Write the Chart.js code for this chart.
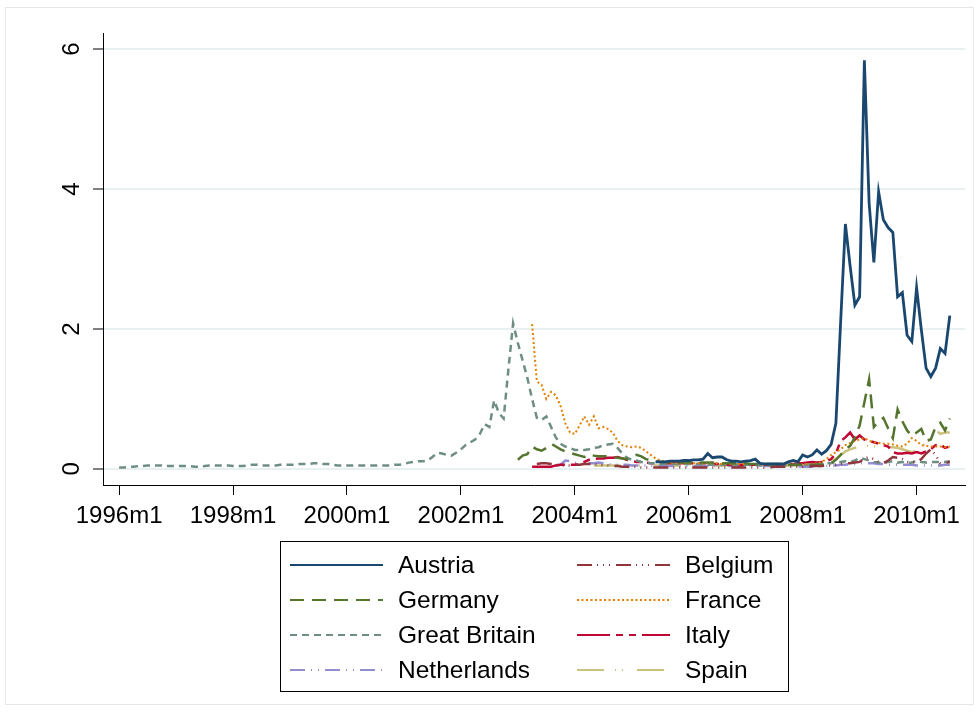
<!DOCTYPE html>
<html>
<head>
<meta charset="utf-8">
<script src="https://cdn.jsdelivr.net/npm/chart.js@4/dist/chart.umd.min.js"></script>
<style>
html, body { margin: 0; padding: 0; background: #fff; }
</style>
</head>
<body>
<canvas id="myChart" width="979" height="713"></canvas>
<script>
// months counted from 1996m1 = 0
var xTickValues = [0, 24, 48, 72, 96, 120, 144, 168];
var xTickLabels = ['1996m1', '1998m1', '2000m1', '2002m1', '2004m1', '2006m1', '2008m1', '2010m1'];
var yTickValues = [0, 2, 4, 6];

var austriaStart = 113;
var austria = [0.1,0.1,0.1,0.11,0.11,0.11,0.12,
  0.12,0.13,0.13,0.14,0.22,0.16,0.17,0.17,0.13,0.11,0.11,0.1,
  0.11,0.12,0.14,0.08,0.07,0.07,0.07,0.07,0.07,0.1,0.12,0.1,
  0.2,0.17,0.2,0.27,0.21,0.26,0.35,0.65,2.1,3.5,2.9,2.34,
  2.46,5.84,3.8,2.95,3.96,3.56,3.45,3.38,2.46,2.52,1.91,1.82,
  2.59,1.99,1.44,1.32,1.44,1.72,1.65,2.19];

var belgiumStart = 88;
var belgium = [0.07,0.08,0.08,0.07,0.06,0.05,0.05,0.05,
  0.06,0.06,0.07,0.07,0.07,0.06,0.05,0.05,0.04,0.04,0.03,0.03,
  0.03,0.03,0.02,0.02,0.02,0.02,0.02,0.02,0.02,0.02,0.02,0.02,
  0.02,0.02,0.02,0.02,0.02,0.02,0.02,0.02,0.02,0.02,0.02,0.02,
  0.02,0.02,0.02,0.02,0.02,0.02,0.03,0.03,0.03,0.03,0.03,0.03,
  0.03,0.03,0.04,0.04,0.04,0.05,0.05,0.06,0.07,0.08,0.08,0.09,
  0.1,0.15,0.17,0.14,0.1,0.08,0.12,0.17,0.16,0.14,0.1,0.09,
  0.1,0.14,0.22,0.28,0.2,0.08,0.08,0.1];

var germanyStart = 84;
var germany = [0.13,0.19,0.21,0.32,0.28,0.26,0.3,0.36,0.32,0.28,0.25,0.23,
  0.21,0.19,0.17,0.21,0.19,0.18,0.18,0.18,0.17,0.16,0.15,0.14,
  0.18,0.2,0.18,0.14,0.12,0.11,0.1,0.1,0.09,0.09,0.09,0.09,
  0.09,0.09,0.09,0.09,0.09,0.09,0.08,0.08,0.08,0.08,0.08,0.08,
  0.08,0.07,0.07,0.07,0.07,0.07,0.07,0.07,0.06,0.06,0.06,0.06,
  0.06,0.06,0.06,0.06,0.06,0.07,0.08,0.13,0.2,0.28,0.33,0.45,
  0.62,0.95,1.28,0.6,0.68,0.73,0.58,0.44,0.85,0.68,0.55,0.47,
  0.52,0.57,0.4,0.42,0.6,0.66,0.55,0.72];

var franceStart = 87;
var france = [2.07,1.25,1.2,1.0,1.1,1.05,0.9,0.65,0.52,
  0.5,0.62,0.75,0.63,0.75,0.58,0.6,0.57,0.52,0.4,0.34,0.32,
  0.31,0.32,0.3,0.25,0.2,0.15,0.12,0.1,0.09,0.08,0.08,0.08,
  0.08,0.08,0.08,0.08,0.08,0.08,0.08,0.07,0.07,0.07,0.07,0.07,
  0.07,0.07,0.07,0.07,0.06,0.06,0.06,0.06,0.06,0.06,0.06,0.06,
  0.06,0.07,0.07,0.08,0.1,0.14,0.2,0.24,0.28,0.34,0.37,0.4,
  0.42,0.44,0.4,0.38,0.37,0.36,0.36,0.35,0.33,0.32,0.36,0.44,
  0.4,0.34,0.33,0.32,0.32,0.32,0.31,0.32];

var britainStart = 0;
var britain = [0.02,0.02,0.03,0.03,0.04,0.04,0.05,0.05,0.05,0.05,0.04,0.04,
  0.04,0.04,0.04,0.04,0.03,0.03,0.04,0.05,0.05,0.05,0.05,0.05,
  0.04,0.04,0.04,0.05,0.06,0.06,0.05,0.05,0.05,0.05,0.06,0.06,
  0.06,0.06,0.07,0.07,0.07,0.08,0.08,0.07,0.07,0.06,0.05,0.05,
  0.05,0.05,0.05,0.05,0.05,0.05,0.05,0.05,0.05,0.05,0.06,0.06,
  0.07,0.09,0.1,0.11,0.11,0.12,0.17,0.23,0.22,0.2,0.19,0.23,
  0.28,0.34,0.38,0.42,0.5,0.64,0.6,0.98,0.8,0.72,1.42,2.08,
  1.8,1.55,1.3,1.0,0.73,0.7,0.75,0.6,0.45,0.36,0.32,0.3,
  0.27,0.27,0.27,0.28,0.3,0.31,0.34,0.35,0.36,0.3,0.22,0.16,
  0.13,0.12,0.1,0.09,0.08,0.08,0.07,0.07,0.07,0.07,0.07,0.07,
  0.07,0.07,0.07,0.06,0.06,0.06,0.06,0.06,0.06,0.06,0.06,0.06,
  0.06,0.06,0.06,0.05,0.05,0.05,0.05,0.05,0.05,0.05,0.06,0.06,
  0.06,0.06,0.07,0.07,0.07,0.08,0.08,0.1,0.1,0.11,0.1,0.12,
  0.16,0.14,0.12,0.1,0.09,0.08,0.1,0.11,0.09,0.1,0.08,0.09,
  0.12,0.1,0.09,0.1,0.1,0.1,0.1,0.11];

var italyStart = 87;
var italy = [0.03,0.03,0.03,0.03,0.03,0.05,0.06,0.06,0.06,
  0.06,0.07,0.1,0.13,0.14,0.15,0.15,0.16,0.16,0.17,0.15,0.13,
  0.11,0.1,0.1,0.09,0.08,0.08,0.08,0.08,0.08,0.08,0.08,0.08,
  0.08,0.08,0.08,0.08,0.08,0.07,0.07,0.07,0.06,0.06,0.06,0.06,
  0.06,0.06,0.06,0.06,0.06,0.06,0.06,0.06,0.06,0.07,0.07,0.08,
  0.08,0.09,0.1,0.09,0.1,0.11,0.14,0.22,0.4,0.45,0.52,0.42,
  0.48,0.42,0.4,0.38,0.36,0.34,0.32,0.24,0.22,0.22,0.23,0.22,
  0.24,0.22,0.25,0.28,0.34,0.35,0.3,0.32];

var netherlandsStart = 92;
var netherlands = [0.05,0.06,0.12,0.11,
  0.09,0.07,0.07,0.08,0.08,0.09,0.08,0.07,0.06,0.06,0.06,0.06,
  0.05,0.05,0.05,0.05,0.04,0.04,0.04,0.04,0.04,0.04,0.04,0.04,
  0.04,0.04,0.04,0.04,0.04,0.04,0.04,0.04,0.04,0.04,0.04,0.04,
  0.04,0.04,0.04,0.04,0.04,0.04,0.04,0.04,0.04,0.04,0.04,0.04,
  0.03,0.03,0.03,0.03,0.04,0.04,0.05,0.05,0.06,0.06,0.07,0.07,
  0.08,0.08,0.08,0.08,0.07,0.07,0.06,0.06,0.06,0.06,0.06,0.06,
  0.05,0.05,0.05,0.05,0.05,0.05,0.06,0.06];

var spainStart = 100;
var spain = [0.05,0.05,0.05,0.05,0.05,0.05,0.05,0.05,
  0.05,0.05,0.05,0.05,0.05,0.05,0.05,0.05,0.05,0.05,0.05,0.05,
  0.05,0.05,0.05,0.05,0.05,0.05,0.05,0.05,0.05,0.05,0.05,0.05,
  0.05,0.05,0.05,0.05,0.05,0.05,0.05,0.05,0.05,0.05,0.05,0.05,
  0.05,0.05,0.06,0.06,0.07,0.08,0.1,0.14,0.2,0.25,0.28,0.3,
  0.32,0.33,0.33,0.32,0.32,0.31,0.31,0.31,0.3,0.28,0.26,0.24,
  0.26,0.3,0.38,0.46,0.56,0.5,0.52,0.52];

var fontFamily = '"Liberation Sans", Arial, Helvetica, sans-serif';
Chart.defaults.font.family = fontFamily;
Chart.defaults.color = '#000';

function makeSeries(start, values) {
    return values.map(function (v, i) { return {x: start + i, y: v}; });
}

function makeDataset(name, start, values, color, dash, width) {
    return {
        label: name,
        data: makeSeries(start, values),
        borderColor: color,
        backgroundColor: color,
        borderDash: dash,
        borderWidth: width,
        pointRadius: 0,
        tension: 0,
        fill: false
    };
}

// legend order (row by row, two columns)
var datasets = [
    makeDataset('Austria', austriaStart, austria, '#1a476f', [], 2.8),
    makeDataset('Belgium', belgiumStart, belgium, '#90353b', [15, 5, 1, 5, 1, 5, 1, 6], 2.5),
    makeDataset('Germany', germanyStart, germany, '#55752f', [14, 8], 2.5),
    makeDataset('France', franceStart, france, '#e37e00', [2, 2.5], 2),
    makeDataset('Great Britain', britainStart, britain, '#6e8e84', [7, 5], 2.5),
    makeDataset('Italy', italyStart, italy, '#c10534', [33, 6, 7, 6, 7, 6], 2.5),
    makeDataset('Netherlands', netherlandsStart, netherlands, '#938dd2', [15, 6, 1, 6, 1, 6], 2.5),
    makeDataset('Spain', spainStart, spain, '#cac27e', [27, 11, 1, 6, 1, 14], 2.5)
];

// white page with faint outer frame
var framePlugin = {
    id: 'frame',
    beforeDraw: function (chart) {
        var ctx = chart.ctx;
        ctx.save();
        ctx.fillStyle = '#fff';
        ctx.fillRect(0, 0, chart.width, chart.height);
        ctx.strokeStyle = '#e6e6e6';
        ctx.lineWidth = 1;
        ctx.strokeRect(5.5, 7.5, 968, 697);
        ctx.restore();
    }
};

// boxed two-column legend like Stata's
var boxLegend = {
    id: 'boxLegend',
    afterDraw: function (chart) {
        var ctx = chart.ctx;
        ctx.save();
        ctx.strokeStyle = '#000';
        ctx.lineWidth = 1;
        ctx.strokeRect(280.5, 541.5, 508, 150);
        ctx.font = '24.5px ' + fontFamily;
        ctx.textBaseline = 'middle';
        ctx.textAlign = 'left';
        chart.data.datasets.forEach(function (ds, i) {
            var x0 = (i % 2 === 0) ? 290 : 577;
            var y = 565 + Math.floor(i / 2) * 35;
            ctx.strokeStyle = ds.borderColor;
            ctx.lineWidth = 2;
            ctx.setLineDash(ds.borderDash);
            ctx.beginPath();
            ctx.moveTo(x0, y);
            ctx.lineTo(x0 + 93, y);
            ctx.stroke();
            ctx.setLineDash([]);
            ctx.fillStyle = '#000';
            ctx.fillText(ds.label, x0 + 108, y + 1);
        });
        ctx.restore();
    }
};

var ctx = document.getElementById('myChart').getContext('2d');

var config = {
    type: 'line',
    data: { datasets: datasets },
    options: {
        responsive: false,
        animation: false,
        layout: { padding: { left: 0, top: 33, right: 14, bottom: 0 } },
        plugins: {
            legend: { display: false },
            tooltip: { enabled: false }
        },
        scales: {
            x: {
                type: 'linear',
                min: -3.4,
                max: 178.2,
                afterBuildTicks: function (scale) {
                    scale.ticks = xTickValues.map(function (v) { return {value: v}; });
                },
                afterFit: function (scale) { scale.height = 228; },
                ticks: {
                    font: { size: 24 },
                    color: '#000',
                    padding: 7,
                    maxRotation: 0,
                    autoSkip: false,
                    callback: function (v) { return xTickLabels[xTickValues.indexOf(v)]; }
                },
                grid: {
                    drawOnChartArea: false,
                    drawTicks: true,
                    tickLength: 10,
                    tickColor: '#000',
                    tickWidth: 1
                },
                border: { display: true, color: '#000', width: 1 }
            },
            y: {
                type: 'linear',
                min: -0.23,
                max: 6.23,
                afterBuildTicks: function (scale) {
                    scale.ticks = yTickValues.map(function (v) { return {value: v}; });
                },
                afterFit: function (scale) { scale.width = 103; },
                ticks: {
                    font: { size: 24 },
                    color: '#000',
                    padding: 14,
                    minRotation: 90,
                    maxRotation: 90,
                    crossAlign: 'center',
                    autoSkip: false
                },
                grid: {
                    color: '#e8f0f1',
                    lineWidth: 2,
                    drawTicks: true,
                    tickLength: 10,
                    tickColor: '#000',
                    tickWidth: 1
                },
                border: { display: true, color: '#000', width: 1 }
            }
        }
    },
    plugins: [framePlugin, boxLegend]
};

var myChart = new Chart(ctx, config);
</script>
</body>
</html>
